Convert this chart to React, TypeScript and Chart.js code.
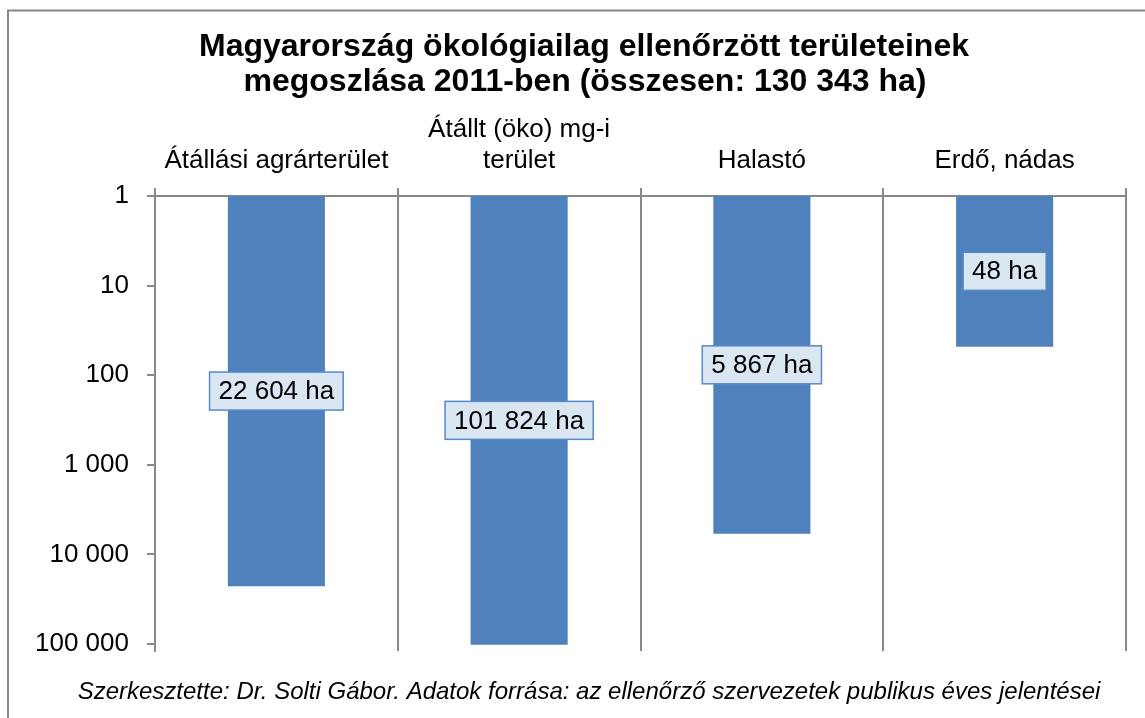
import React, { useEffect, useRef } from "react";
import { Chart, registerables } from "chart.js";

Chart.register(...registerables);

const titleLines = [
  "Magyarország ökológiailag ellenőrzött területeinek",
  "megoszlása 2011-ben (összesen: 130 343 ha)",
];
const categories = [
  ["Átállási agrárterület"],
  ["Átállt (öko) mg-i", "terület"],
  ["Halastó"],
  ["Erdő, nádas"],
];
const values = [22604, 101824, 5867, 48];
const valueLabels = ["22 604 ha", "101 824 ha", "5 867 ha", "48 ha"];
const yTicks = [1, 10, 100, 1000, 10000, 100000];
const yTickLabels = ["1", "10", "100", "1 000", "10 000", "100 000"];
const footer =
  "Szerkesztette: Dr. Solti Gábor. Adatok forrása: az ellenőrző szervezetek publikus éves jelentései";

const FONT = "'Liberation Sans', Arial, Helvetica, sans-serif";
const GRID = "#888888";
const BAR = "#4f81bd";

const decorPlugin = {
  id: "decor",
  beforeDraw(chart: any) {
    const ctx = chart.ctx;
    ctx.save();
    ctx.strokeStyle = GRID;
    ctx.lineWidth = 2;
    ctx.beginPath();
    ctx.moveTo(8, 718);
    ctx.lineTo(8, 10.5);
    ctx.lineTo(1145, 10.5);
    ctx.stroke();
    ctx.restore();
  },
  afterDraw(chart: any) {
    const ctx = chart.ctx;
    ctx.save();
    // title
    ctx.fillStyle = "#000";
    ctx.textAlign = "center";
    ctx.textBaseline = "alphabetic";
    ctx.font = `bold 32px ${FONT}`;
    ctx.fillText(titleLines[0], 584, 56);
    ctx.fillText(titleLines[1], 585, 91);
    // footer
    ctx.font = `italic 24px ${FONT}`;
    ctx.fillText(footer, 589, 699);
    // data labels
    const yScale = chart.scales.y;
    const meta = chart.getDatasetMeta(0);
    ctx.font = `26px ${FONT}`;
    meta.data.forEach((bar: any, i: number) => {
      const cy = yScale.getPixelForValue(Math.sqrt(values[i]));
      const text = valueLabels[i];
      const w = ctx.measureText(text).width + 18;
      const h = 38;
      const x0 = bar.x - w / 2;
      const y0 = cy - h / 2;
      ctx.fillStyle = "#dbe6f3";
      ctx.fillRect(x0, y0, w, h);
      ctx.strokeStyle = "#5589c8";
      ctx.lineWidth = 1.5;
      ctx.strokeRect(x0, y0, w, h);
      ctx.fillStyle = "#000";
      ctx.textBaseline = "middle";
      ctx.fillText(text, bar.x, cy + 1);
    });
    ctx.restore();
  },
};

export default function App() {
  const ref = useRef<HTMLCanvasElement | null>(null);

  useEffect(() => {
    if (!ref.current) return;
    const chart = new Chart(ref.current, {
      type: "bar",
      data: {
        labels: categories,
        datasets: [
          {
            data: values,
            backgroundColor: BAR,
            borderWidth: 0,
            barPercentage: 0.4,
            categoryPercentage: 1,
          },
        ],
      },
      options: {
        animation: false,
        responsive: false,
        devicePixelRatio: 1,
        layout: { padding: { left: 0, top: 0, right: 19, bottom: 67 } },
        plugins: {
          legend: { display: false },
          title: { display: false },
          tooltip: { enabled: false },
        },
        scales: {
          x: {
            position: "top",
            offset: true,
            grid: {
              offset: true,
              drawOnChartArea: true,
              drawTicks: true,
              tickLength: 8,
              color: GRID,
              lineWidth: 2,
            },
            border: { color: GRID, width: 2 },
            ticks: {
              font: { family: FONT, size: 26, lineHeight: 1.22 },
              color: "#000",
              padding: 11,
              autoSkip: false,
              maxRotation: 0,
              minRotation: 0,
            },
            afterFit: (s: any) => {
              s.height = 196;
            },
          },
          y: {
            type: "logarithmic",
            reverse: true,
            min: 1,
            max: 119700,
            grid: {
              drawOnChartArea: false,
              drawTicks: true,
              tickLength: 8,
              color: GRID,
              lineWidth: 2,
            },
            border: { color: GRID, width: 2 },
            ticks: {
              font: { family: FONT, size: 26 },
              color: "#000",
              padding: 18,
              autoSkip: false,
              callback: (v: any) => {
                const idx = yTicks.indexOf(Number(v));
                return idx >= 0 ? yTickLabels[idx] : "";
              },
            },
            afterBuildTicks: (s: any) => {
              s.ticks = yTicks.map((v) => ({ value: v, major: false }));
            },
            afterFit: (s: any) => {
              s.width = 155;
            },
          },
        },
      } as any,
      plugins: [decorPlugin],
    });
    return () => chart.destroy();
  }, []);

  return (
    <div style={{ position: "fixed", left: 0, top: 0, width: 1145, height: 718, background: "#fff" }}>
      <canvas ref={ref} width={1145} height={718} style={{ display: "block", width: 1145, height: 718 }} />
    </div>
  );
}
